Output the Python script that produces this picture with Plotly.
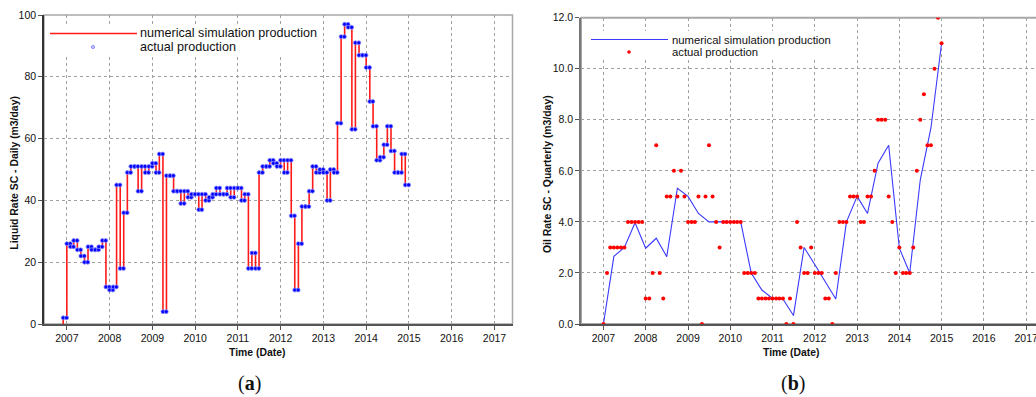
import pandas as pd
import plotly.graph_objects as go

# ---------------- data ----------------
# (a) monthly liquid rate, Dec 2006 .. Dec 2014 (m3/day)
liquid_start = "2006-12-01"
liquid_rate = [
    2,
    26, 25, 27, 24, 22, 20, 25, 24, 24, 25, 27, 12,
    11, 12, 45, 18, 36, 49, 51, 51, 43, 51, 49, 51,
    52, 49, 55, 4, 48, 48, 43, 43, 39, 43, 41, 42,
    42, 37, 42, 40, 41, 42, 44, 42, 42, 44, 41, 44,
    44, 40, 42, 18, 23, 18, 49, 51, 51, 53, 52, 51,
    53, 49, 53, 35, 11, 26, 38, 38, 43, 51, 49, 50,
    49, 40, 50, 49, 65, 93, 97, 96, 63, 91, 87, 87,
    83, 72, 64, 53, 54, 58, 64, 56, 49, 49, 55, 45,
]

# (b) monthly actual oil rate, Jan 2007 .. Jan 2015 (m3/day)
oil_actual_start = "2007-01-01"
oil_actual = [
    0, 2, 3, 3, 3, 3, 3, 4, 4, 4, 4, 4,
    1, 1, 2, 7, 2, 1, 5, 5, 6, 5, 6, 5,
    4, 4, 4, 5, 0, 5, 7, 5, 4, 3, 4, 4,
    4, 4, 4, 4, 2, 2, 2, 2, 1, 1, 1, 1,
    1, 1, 1, 1, 0, 1, 0, 4, 3, 2, 2, 3,
    2, 2, 2, 1, 1, 0, 2, 4, 4, 4, 5, 5,
    5, 4, 4, 5, 5, 6, 8, 8, 8, 5, 4, 2,
    3, 2, 2, 2, 3, 6, 8, 9, 7, 7, 10, 12,
    11,
]

# (b) quarterly simulated oil rate, 2007-01 .. 2015-01
oil_sim_start = "2007-01-01"
oil_sim = [
    0.0, 2.65, 3.0, 3.97, 2.97, 3.36, 2.64, 5.32, 5.0, 4.33, 4.0,
    4.0, 4.0, 4.0, 2.0, 1.33, 1.0, 0.98, 0.33, 3.0, 2.33, 1.65,
    0.98, 4.0, 5.0, 4.33, 6.3, 7.0, 2.97, 2.0, 5.65, 7.68, 11.0,
]

year_ticks = list(range(2007, 2018))
leg_sim = "numerical simulation production"
leg_act = "actual production"

# ---------------- derived series ----------------
liq_months = pd.date_range(liquid_start, periods=len(liquid_rate), freq="MS")
liq_end = liq_months[-1] + pd.offsets.MonthBegin(1)
sim_x = [liq_months[0]] + list(liq_months) + [liq_end]
sim_y = [0] + liquid_rate + [liquid_rate[-1]]

act_x, act_y = [], []
for m, v in zip(liq_months, liquid_rate):
    nxt = m + pd.offsets.MonthBegin(1)
    act_x += [m, nxt - pd.Timedelta(days=2)]
    act_y += [v, v]

oil_months = pd.date_range(oil_actual_start, periods=len(oil_actual), freq="MS")
oil_q = pd.date_range(oil_sim_start, periods=len(oil_sim), freq="QS")

# ---------------- figure ----------------
FONT = "Liberation Sans, Arial, sans-serif"
W, H = 1036, 397

def px_x(p):
    return p / W

def px_y(p):
    return (H - p) / H

fig = go.Figure()

fig.add_trace(go.Scatter(
    x=sim_x, y=sim_y, mode="lines", line=dict(color="#ff1a1a", width=1.6, shape="hv"),
    xaxis="x", yaxis="y", showlegend=False, name=leg_sim,
))
fig.add_trace(go.Scatter(
    x=act_x, y=act_y, mode="markers",
    marker=dict(color="#0000ff", size=4, line=dict(color="#8c8cff", width=0.8)),
    xaxis="x", yaxis="y", showlegend=False, name=leg_act,
))
fig.add_trace(go.Scatter(
    x=oil_q, y=oil_sim, mode="lines", line=dict(color="#3a3aff", width=1.1),
    xaxis="x2", yaxis="y2", showlegend=False, name=leg_sim,
))
fig.add_trace(go.Scatter(
    x=oil_months, y=oil_actual, mode="markers",
    marker=dict(color="#ff0000", size=4),
    xaxis="x2", yaxis="y2", showlegend=False, name=leg_act,
))

# plot areas (pixels)
L = dict(x0=44, x1=512.5, y0=15, y1=324)
R = dict(x0=581, x1=1036, y0=17.7, y1=324)

common_x = dict(
    type="date", showgrid=True, gridcolor="#a0a0a0", griddash="dot", gridwidth=1,
    showline=True, linecolor="#555", linewidth=1.5, ticks="outside", ticklen=4,
    tickcolor="#555", tickwidth=1, tickfont=dict(family=FONT, size=10.5, color="#111"),
    tickvals=[f"{y}-01-01" for y in year_ticks], ticktext=[str(y) for y in year_ticks],
    zeroline=False, ticklabeloverflow="allow", automargin=False,
)
common_y = dict(
    showgrid=True, gridcolor="#a0a0a0", griddash="dot", gridwidth=1,
    showline=True, linecolor="#333", linewidth=1.5, ticks="outside", ticklen=4,
    tickcolor="#555", tickwidth=1, tickfont=dict(family=FONT, size=10.5, color="#111"),
    zeroline=False, automargin=False,
)

fig.update_layout(
    width=W, height=H, margin=dict(l=0, r=0, t=0, b=0, pad=0, autoexpand=False),
    paper_bgcolor="white", plot_bgcolor="white", showlegend=False,
    xaxis=dict(common_x, domain=[px_x(L["x0"]), px_x(L["x1"])], anchor="y",
               range=["2006-06-20", "2017-06-04"]),
    yaxis=dict(common_y, domain=[px_y(L["y1"]), px_y(L["y0"])], anchor="x",
               range=[0, 100], tickvals=[0, 20, 40, 60, 80, 100]),
    xaxis2=dict(common_x, domain=[px_x(R["x0"]), 1.0], anchor="y2",
                range=["2006-06-21", "2017-03-27"]),
    yaxis2=dict(common_y, domain=[px_y(R["y1"]), px_y(R["y0"])], anchor="x2",
                range=[0, 12], tickvals=[0, 2, 4, 6, 8, 10, 12], tickformat=".1f",
                linecolor="#777"),
)

shapes = []
annotations = []

def dom(p, lo, hi):
    return (p - lo) / (hi - lo)

def ydom(p, top, bot):
    return (bot - p) / (bot - top)

# box borders
shapes.append(dict(type="rect", xref="x domain", yref="y domain", x0=0, x1=1, y0=0, y1=1,
                   line=dict(color="#a8a8a8", width=1.5), layer="below"))
shapes.append(dict(type="rect", xref="x2 domain", yref="y2 domain", x0=0, x1=1.01, y0=0, y1=1,
                   line=dict(color="#a8a8a8", width=2), layer="below"))

# ---- legend (a)
lx = lambda p: dom(p, L["x0"], L["x1"])
ly = lambda p: ydom(p, L["y0"], L["y1"])
shapes.append(dict(type="rect", xref="x domain", yref="y domain",
                   x0=lx(45), x1=lx(322), y0=ly(56), y1=ly(25),
                   fillcolor="white", line=dict(width=0), layer="above"))
shapes.append(dict(type="line", xref="x domain", yref="y domain",
                   x0=lx(50), x1=lx(137), y0=ly(33.5), y1=ly(33.5),
                   line=dict(color="#ff1a1a", width=1.6), layer="above"))
shapes.append(dict(type="circle", xref="x domain", yref="y domain",
                   xsizemode="pixel", ysizemode="pixel", xanchor=lx(93), yanchor=ly(47),
                   x0=-1.6, x1=1.6, y0=-1.6, y1=1.6,
                   fillcolor="#c8c8ff", line=dict(color="#7a7aff", width=0.8), layer="above"))
annotations.append(dict(xref="x domain", yref="y domain", x=lx(137.5), y=ly(33.5),
                        text=leg_sim, showarrow=False, xanchor="left", yanchor="middle",
                        font=dict(family=FONT, size=12.6, color="#111")))
annotations.append(dict(xref="x domain", yref="y domain", x=lx(137.5), y=ly(47.5),
                        text=leg_act, showarrow=False, xanchor="left", yanchor="middle",
                        font=dict(family=FONT, size=12.6, color="#111")))

# ---- legend (b)
rx = lambda p: dom(p, R["x0"], R["x1"])
ry = lambda p: ydom(p, R["y0"], R["y1"])
shapes.append(dict(type="rect", xref="x2 domain", yref="y2 domain",
                   x0=rx(583), x1=rx(840), y0=ry(60), y1=ry(31),
                   fillcolor="white", line=dict(width=0), layer="above"))
shapes.append(dict(type="line", xref="x2 domain", yref="y2 domain",
                   x0=rx(591), x1=rx(668), y0=ry(39.5), y1=ry(39.5),
                   line=dict(color="#3a3aff", width=1.2), layer="above"))
shapes.append(dict(type="circle", xref="x2 domain", yref="y2 domain",
                   xsizemode="pixel", ysizemode="pixel", xanchor=rx(629), yanchor=ry(52),
                   x0=-1.8, x1=1.8, y0=-1.8, y1=1.8,
                   fillcolor="#ff0000", line=dict(width=0), layer="above"))
annotations.append(dict(xref="x2 domain", yref="y2 domain", x=rx(669.5), y=ry(39.5),
                        text=leg_sim, showarrow=False, xanchor="left", yanchor="middle",
                        font=dict(family=FONT, size=11.3, color="#111")))
annotations.append(dict(xref="x2 domain", yref="y2 domain", x=rx(669.5), y=ry(52),
                        text=leg_act, showarrow=False, xanchor="left", yanchor="middle",
                        font=dict(family=FONT, size=11.3, color="#111")))

# ---- axis titles & panel labels
TF = dict(family=FONT, size=10.4, color="#111")
annotations += [
    dict(xref="paper", yref="paper", x=px_x(256.7), y=px_y(352), text="<b>Time (Date)</b>",
         showarrow=False, xanchor="center", yanchor="middle", font=TF),
    dict(xref="paper", yref="paper", x=px_x(790.7), y=px_y(352), text="<b>Time (Date)</b>",
         showarrow=False, xanchor="center", yanchor="middle", font=TF),
    dict(xref="paper", yref="paper", x=px_x(15), y=px_y(172.7),
         text="<b>Liquid Rate SC - Daily (m3/day)</b>", textangle=-90,
         showarrow=False, xanchor="center", yanchor="middle", font=TF),
    dict(xref="paper", yref="paper", x=px_x(548), y=px_y(174),
         text="<b>Oil Rate SC - Quarterly (m3/day)</b>", textangle=-90,
         showarrow=False, xanchor="center", yanchor="middle", font=TF),
    dict(xref="paper", yref="paper", x=px_x(249), y=px_y(383), text="(<b>a</b>)",
         showarrow=False, xanchor="center", yanchor="middle",
         font=dict(family="Liberation Serif, Times New Roman, serif", size=20, color="#111")),
    dict(xref="paper", yref="paper", x=px_x(792.7), y=px_y(383), text="(<b>b</b>)",
         showarrow=False, xanchor="center", yanchor="middle",
         font=dict(family="Liberation Serif, Times New Roman, serif", size=20, color="#111")),
]

fig.update_layout(shapes=shapes, annotations=annotations)
fig.write_html("out.html")
